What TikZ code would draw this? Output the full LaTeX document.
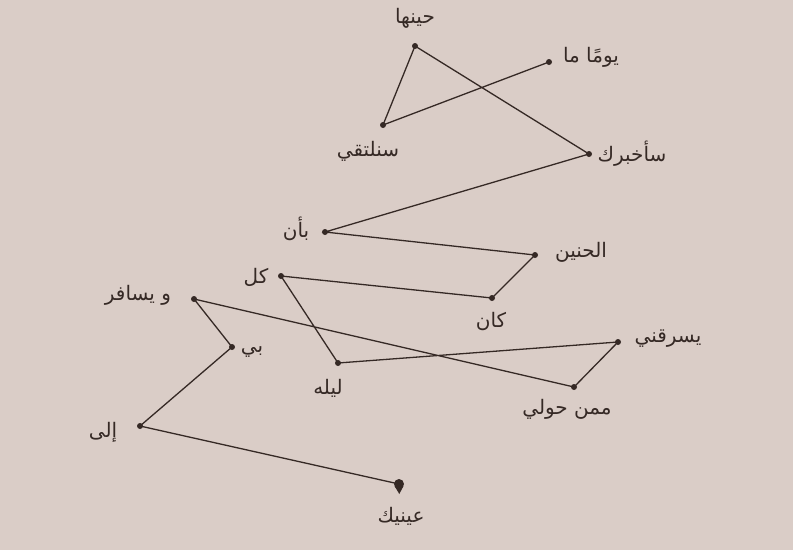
\documentclass[tikz,border=0pt]{standalone}
\usepackage{fontspec}
\usetikzlibrary{calc}
\newfontfamily\arabicfont[Script=Arabic]{DejaVu Sans}
\TeXXeTstate=1
\definecolor{bg}{HTML}{DACDC7}
\definecolor{ink}{HTML}{352925}
\begin{document}
\begin{tikzpicture}[x=1pt,y=-1pt,
  pt/.style={circle,fill=ink,inner sep=0pt,minimum size=6pt},
  lbl/.style={text=ink,font=\arabicfont\fontsize{20}{24}\selectfont,inner sep=0pt},
  link/.style={draw=ink,line width=1.3pt}]
\fill[bg] (0,0) rectangle (793,550);
\useasboundingbox (0,0) rectangle (793,550);
% points
\node[pt] (p1) at (549,62) {};
\node[pt] (p2) at (383,125) {};
\node[pt] (p3) at (415,46) {};
\node[pt] (p4) at (589,154) {};
\node[pt] (p5) at (325,232) {};
\node[pt] (p6) at (535,255) {};
\node[pt] (p7) at (492,298) {};
\node[pt] (p8) at (281,276) {};
\node[pt] (p9) at (338,363) {};
\node[pt] (p10) at (618,342) {};
\node[pt] (p11) at (574,387) {};
\node[pt] (p12) at (194,299) {};
\node[pt] (p13) at (232,347) {};
\node[pt] (p14) at (140,426) {};
\coordinate (p15) at (399,484);
% connectors
\draw[link] (p1.center) -- (p2.center) -- (p3.center) -- (p4.center) -- (p5.center)
  -- (p6.center) -- (p7.center) -- (p8.center) -- (p9.center) -- (p10.center)
  -- (p11.center) -- (p12.center) -- (p13.center) -- (p14.center) -- (p15);
% end marker (drop)
\fill[ink] (p15) circle (5pt);
\fill[ink] ($(p15)+(-4.6,1.8)$) -- ($(p15)+(0.3,10)$) -- ($(p15)+(4.6,1.8)$) -- cycle;
% labels
\node[lbl] (l1) at (591,57) {\beginR يومًا ما\endR};
\node[lbl] (l2) at (368,151) {\beginR سنلتقي\endR};
\node[lbl] (l3) at (415,18) {\beginR حينها\endR};
\node[lbl] (l4) at (632,154) {\beginR سأخبرك\endR};
\node[lbl] (l5) at (296,229) {\beginR بأن\endR};
\node[lbl] (l6) at (581,252) {\beginR الحنين\endR};
\node[lbl] (l7) at (491,322) {\beginR كان\endR};
\node[lbl] (l8) at (256,277) {\beginR كل\endR};
\node[lbl] (l9) at (328,388) {\beginR ليله\endR};
\node[lbl] (l10) at (668,339) {\beginR يسرقني\endR};
\node[lbl] (l11) at (567,409) {\beginR ممن حولي\endR};
\node[lbl] (l12) at (138,295) {\beginR و يسافر\endR};
\node[lbl] (l13) at (252,352) {\beginR بي\endR};
\node[lbl] (l14) at (103,432) {\beginR إلى\endR};
\node[lbl] (l15) at (401,516) {\beginR عينيك\endR};
\end{tikzpicture}
\end{document}
